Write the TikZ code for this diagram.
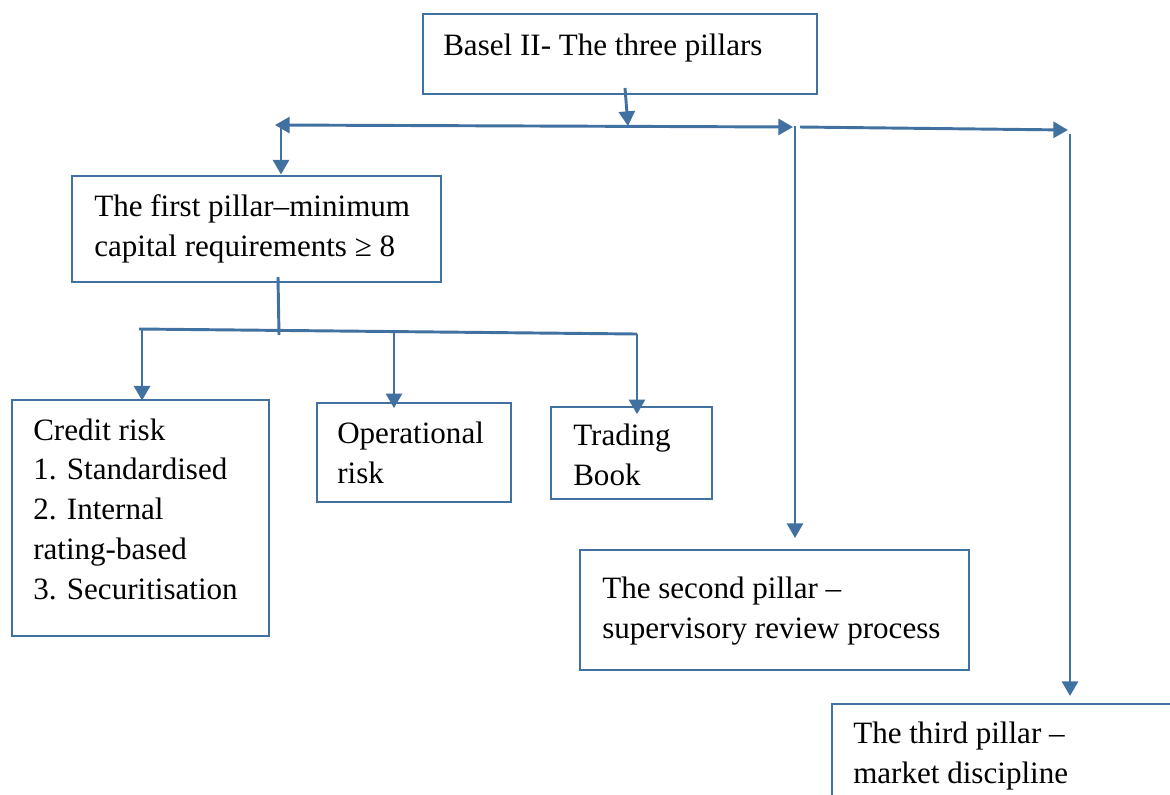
\documentclass[tikz,border=0pt]{standalone}
\usepackage{fontspec}
\setmainfont{Liberation Serif}
\usetikzlibrary{arrows.meta,fit}
\definecolor{edge}{RGB}{65,113,160}
\tikzset{
  box/.style={draw=edge, line width=2.2pt, inner sep=0pt, fill=white},
  txt/.style={anchor=base west, align=left, inner sep=0pt, font=\fontsize{23.3}{29.8}\selectfont},
  conn/.style={draw=edge, line width=2.2pt},
  arr/.style={conn, -{Triangle[length=11pt,width=12pt]}},
  darr/.style={conn, {Triangle[length=11pt,width=12pt]}-{Triangle[length=11pt,width=12pt]}}
}
\begin{document}
\begin{tikzpicture}[x=0.75pt,y=-0.75pt]
\useasboundingbox (0,0) rectangle (1170,794);
\clip (0,0) rectangle (1170,794);
\fill[white] (0,0) rectangle (1170,794);

% boxes
\node[box, fit={(423,14)(817,94)}] (top) {};
\node[box, fit={(72,176)(441,282)}] (p1) {};
\node[box, fit={(12,400)(269,636)}] (cr) {};
\node[box, fit={(317,403)(511,502)}] (op) {};
\node[box, fit={(551,407)(712,499)}] (tb) {};
\node[box, fit={(580,550)(969,670)}] (p2) {};
\node[box, fit={(832,704)(1200,830)}] (p3) {};

% texts (anchored at the baseline of the last line)
\node[txt] (topT) at (443,55) {Basel II- The three pillars};
\node[txt] (p1T) at (94,256) {The first pillar--minimum\\capital requirements ≥ 8};
\node[txt] (crT) at (33,599) {Credit risk\\1. Standardised\\2. Internal\\rating-based\\3. Securitisation};
\node[txt] (opT) at (337,483) {Operational\\risk};
\node[txt] (tbT) at (573,485) {Trading\\Book};
\node[txt] (p2T) at (602,638) {The second pillar --\\supervisory review process};
\node[txt] (p3T) at (853,783) {The third pillar --\\market discipline};

% junction coordinates
\coordinate (t0) at (625,88);
\coordinate (j0) at (628,126);
\coordinate (hl) at (275,125);
\coordinate (hr) at (793,127);
\coordinate (v1) at (281,125);
\coordinate (v2top) at (795,126);
\coordinate (v2end) at (795,538);
\coordinate (h2a) at (800,127);
\coordinate (h2b) at (1068,130);
\coordinate (v3top) at (1070,134);
\coordinate (v3end) at (1070,696);

\coordinate (b0) at (278,277);
\coordinate (b1) at (279,335);
\coordinate (hb1) at (139,329);
\coordinate (hb2) at (637,334);
\coordinate (d1) at (142,329);
\coordinate (d2) at (394,331);
\coordinate (d3) at (637,334);

% top level connectors
\draw[arr] (t0) -- (j0);
\draw[darr] (hl) -- (hr);
\draw[arr] (v1) -- (v1 |- p1.north);
\draw[arr] (v2top) -- (v2end);
\draw[arr] (h2a) -- (h2b);
\draw[arr] (v3top) -- (v3end);

% first pillar connectors
\draw[conn] (b0) -- (b1);
\draw[conn] (hb1) -- (hb2);
\draw[arr] (d1) -- ([yshift=-1.5pt]d1 |- cr.north);
\draw[arr] (d2) -- ([yshift=-5pt]d2 |- op.north);
\draw[arr] (d3) -- ([yshift=-6.5pt]d3 |- tb.north);
\end{tikzpicture}
\end{document}
